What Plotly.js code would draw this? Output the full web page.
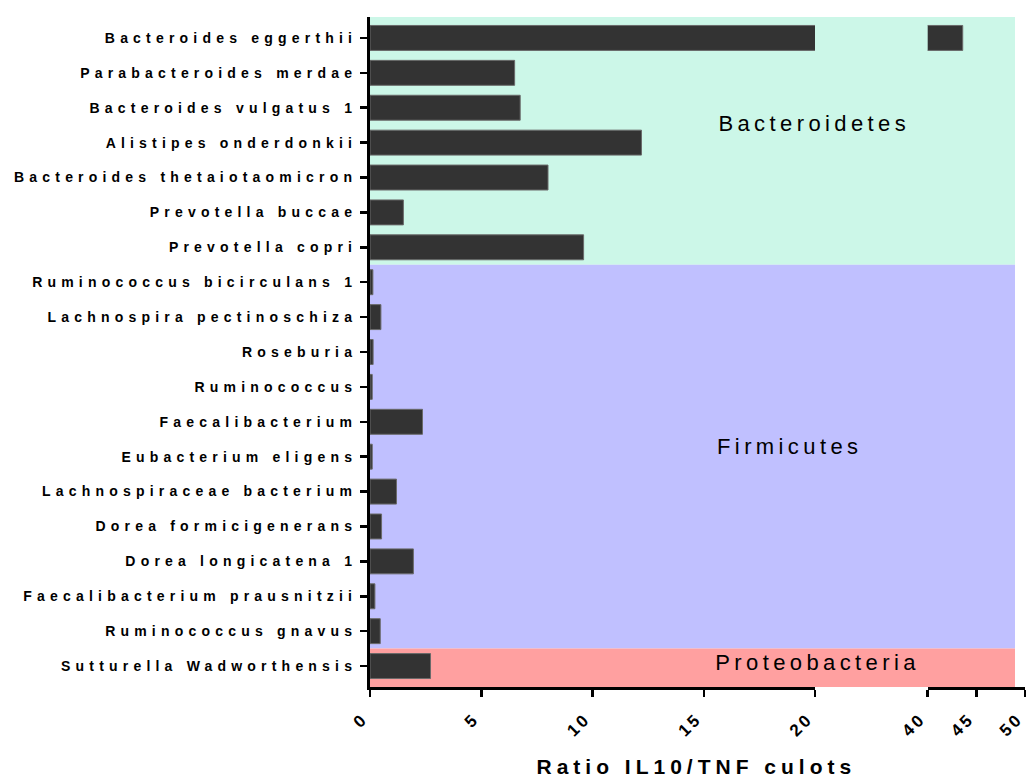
<!DOCTYPE html>
<html>
<head>
<meta charset="utf-8">
<script src="https://cdn.plot.ly/plotly-3.0.1.min.js"></script>
<style>
  html, body { margin: 0; padding: 0; background: #fff; }
  #chart { width: 1029px; height: 778px; }
  .ytick text { letter-spacing: 5.2px; }
  .xtick text, .x2tick text { letter-spacing: 3px; }
  .annotation[data-index="0"] text,
  .annotation[data-index="1"] text,
  .annotation[data-index="2"] text { letter-spacing: 4.4px; }
  .annotation[data-index="3"] text { letter-spacing: 5px; }
</style>
</head>
<body>
<div id="chart"></div>
<script>
// ---- data ----
const species = [
  "Bacteroides eggerthii",
  "Parabacteroides merdae",
  "Bacteroides vulgatus 1",
  "Alistipes onderdonkii",
  "Bacteroides thetaiotaomicron",
  "Prevotella buccae",
  "Prevotella copri",
  "Ruminococcus bicirculans 1",
  "Lachnospira pectinoschiza",
  "Roseburia",
  "Ruminococcus",
  "Faecalibacterium",
  "Eubacterium eligens",
  "Lachnospiraceae bacterium",
  "Dorea formicigenerans",
  "Dorea longicatena 1",
  "Faecalibacterium prausnitzii",
  "Ruminococcus gnavus",
  "Sutturella Wadworthensis"
];
const ratio = [43.6, 6.5, 6.75, 12.2, 8.0, 1.5, 9.6, 0.13, 0.49, 0.14, 0.1, 2.36, 0.1, 1.19, 0.52, 1.95, 0.22, 0.46, 2.72];
const phyla = ["Bacteroidetes", "Firmicutes", "Proteobacteria"];
const phylumStart = [0, 7, 18];   // first species index of each phylum
const phylumEnd = [6, 17, 18];    // last species index of each phylum
const phylumColors = ["#CCF7E8", "#C0C0FF", "#FFA0A0"];
const xTicksLow = [0, 5, 10, 15, 20];
const xTicksHigh = [40, 45, 50];
const axisTitle = "Ratio IL10/TNF culots";

// ---- layout helpers ----
const W = 1029, H = 778;
const mL = 370, mR = 4, mT = 17, mB = 91;
const plotW = W - mL - mR;
const yRange = [18.6, -0.6];
const fam = "Liberation Sans, Arial, sans-serif";
const labelFont = {family: fam, size: 14, color: "#000", weight: "bold"};
const barMarker = {color: "#333333", line: {color: "#6a6a6a", width: 1}};

const traces = [
  {type: "bar", orientation: "h", y: species, x: ratio, xaxis: "x", yaxis: "y",
   marker: barMarker, hoverinfo: "skip", showlegend: false},
  {type: "bar", orientation: "h", y: species, x: ratio, xaxis: "x2", yaxis: "y",
   marker: barMarker, hoverinfo: "skip", showlegend: false}
];

const bgRight = (1015 - mL) / plotW;
const shapes = phyla.map((p, i) => ({
  type: "rect", layer: "below", xref: "paper", yref: "y",
  x0: 0, x1: bgRight,
  y0: i === 0 ? yRange[1] : phylumStart[i] - 0.5,
  y1: i === phyla.length - 1 ? yRange[0] : phylumEnd[i] + 0.5,
  fillcolor: phylumColors[i], line: {width: 0}
}));

// phylum label centres (px) and vertical positions (category units)
const phylumLabelX = [814, 789, 818];
const phylumLabelY = [2.45, 11.7, 17.9];
const annotations = phyla.map((p, i) => ({
  text: p, xref: "paper", yref: "y", x: (phylumLabelX[i] - mL) / plotW, y: phylumLabelY[i],
  xanchor: "center", yanchor: "middle", showarrow: false,
  font: {family: fam, size: 22, color: "#000"}
}));
annotations.push({
  text: axisTitle, xref: "paper", yref: "paper",
  x: (696.5 - mL) / plotW, y: -(766 - (H - mB)) / (H - mT - mB),
  xanchor: "center", yanchor: "middle", showarrow: false,
  font: {family: fam, size: 21, color: "#000", weight: "bold"}
});

const tickFontX = {family: fam, size: 17, color: "#000", weight: "bold"};
function xAxisCfg(domain, range, vals) {
  return {
    domain: domain, range: range, anchor: "y",
    tickmode: "array", tickvals: vals, ticktext: vals.map(String),
    showline: true, linewidth: 3, linecolor: "#000",
    ticks: "outside", ticklen: 7, tickwidth: 2.5, tickcolor: "#000",
    tickangle: -45, showgrid: false, zeroline: false,
    ticklabeloverflow: "allow", ticklabelshift: -7, ticklabelstandoff: 5,
    tickfont: tickFontX, fixedrange: true
  };
}

const layout = {
  width: W, height: H,
  margin: {l: mL, r: mR, t: mT, b: mB, pad: 0},
  paper_bgcolor: "#fff", plot_bgcolor: "rgba(0,0,0,0)",
  barmode: "overlay", bargap: 0.285,
  showlegend: false,
  xaxis: xAxisCfg([0, (815 - mL) / plotW], [0, 20], xTicksLow),
  xaxis2: xAxisCfg([(927.7 - mL) / plotW, 1], [40, 50], xTicksHigh),
  yaxis: {
    type: "category", categoryorder: "array", categoryarray: species,
    range: yRange, autorange: false,
    showline: true, linewidth: 3, linecolor: "#000",
    ticks: "outside", ticklen: 7, tickwidth: 2.5, tickcolor: "#000",
    showgrid: false, zeroline: false,
    tickfont: labelFont, fixedrange: true
  },
  shapes: shapes,
  annotations: annotations
};

Plotly.newPlot("chart", traces, layout, {displayModeBar: false, staticPlot: true});
</script>
</body>
</html>
